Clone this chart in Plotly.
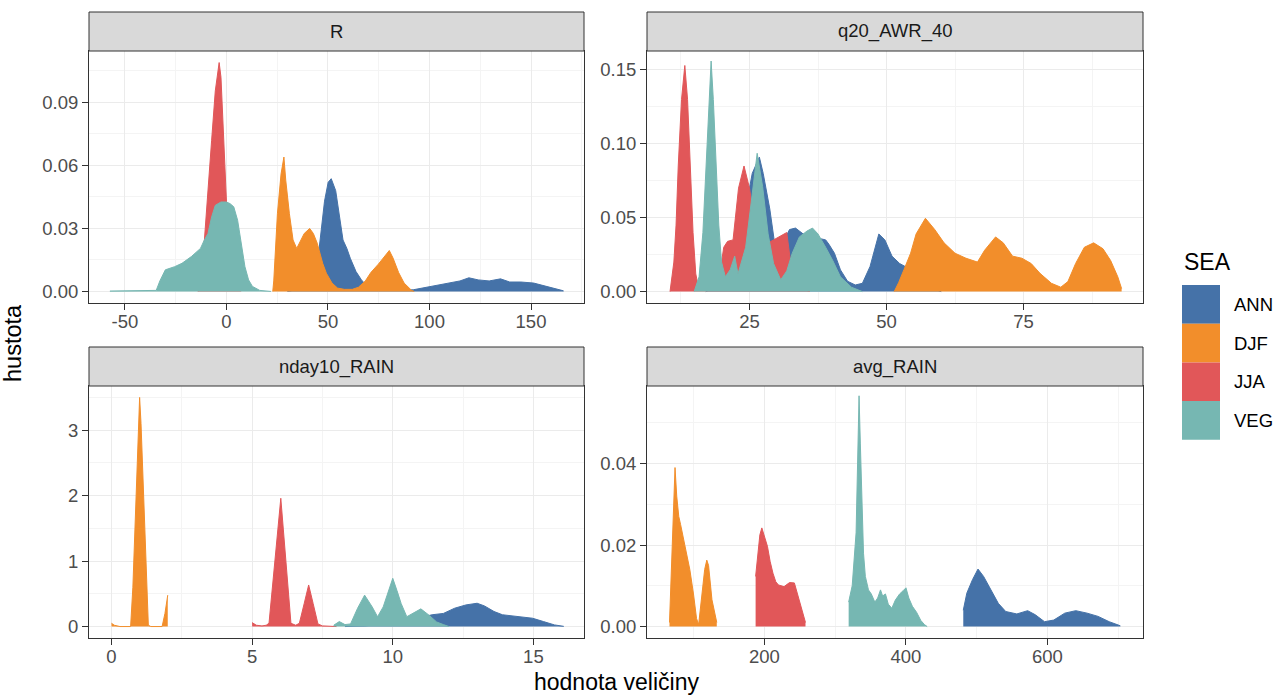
import plotly.graph_objects as go

W, H = 1285, 696

SEASONS = ["ANN", "DJF", "JJA", "VEG"]
COLORS = {"ANN": "#4572A8", "DJF": "#F28E2B", "JJA": "#E15759", "VEG": "#76B7B2"}
PANELS = ["R", "q20_AWR_40", "nday10_RAIN", "avg_RAIN"]

# ---------------- R ----------------
R_ANN_x = [30, 35, 40, 43, 45.6, 46.5, 48.3, 50.1, 51.6, 53.8, 55.6, 57.4, 59.3, 61, 63.8, 66.5, 69.3, 72, 76, 80, 85, 92,
           98.4, 104, 109, 115, 119.4, 124, 129.4, 135, 139.5, 145, 151.3, 156.8, 162.3, 166]
R_ANN_y = [0, 0.001, 0.005, 0.012, 0.02, 0.0276, 0.043, 0.052, 0.0537, 0.048, 0.037, 0.0245, 0.0205, 0.0158, 0.0095,
           0.0055, 0.0024, 0.0012, 0.0008, 0.0006, 0.0005, 0.0008, 0.002, 0.003, 0.004, 0.005, 0.0065, 0.0055, 0.005,
           0.006, 0.0045, 0.0045, 0.004, 0.0025, 0.001, 0.0003]
R_DJF_x = [22.8, 23.3, 25.1, 26.9, 28.3, 29.2, 31, 32.8, 34.6, 36.5, 38.3, 41, 42.8, 44.7, 47.4, 49.2, 52, 54.7, 58, 62,
           65, 68.4, 71.1, 74.8, 78.4, 80.2, 82, 84.8, 87.5, 91.2, 92.5]
R_DJF_y = [0, 0.005, 0.037, 0.056, 0.064, 0.053, 0.037, 0.0245, 0.0205, 0.0245, 0.0276, 0.030, 0.0276, 0.023, 0.0134,
           0.0087, 0.004, 0.0016, 0.001, 0.001, 0.002, 0.005, 0.009, 0.013, 0.017, 0.0195, 0.016, 0.009, 0.004, 0.0005, 0]
R_JJA_x = [-14, -12.5, -10.9, -9.1, -7.3, -5.5, -3.6, -2.7, -1.8, -0.9, 0, 1.5, 3, 5, 7]
R_JJA_y = [0, 0.01, 0.024, 0.05, 0.072, 0.0955, 0.109, 0.102, 0.083, 0.059, 0.043, 0.025, 0.01, 0.002, 0]
R_VEG_x = [-57.4, -45, -34.6, -32.8, -30.1, -25.5, -21.9, -17.3, -14.6, -12.8, -10.9, -9.1, -7.3, -5.5, -2.7, 0, 1.8,
           3.6, 5.5, 7.3, 9.1, 10.9, 12.8, 16.4, 21.9]
R_VEG_y = [0.0002, 0.0002, 0.0005, 0.005, 0.0103, 0.0118, 0.0134, 0.0166, 0.019, 0.0205, 0.0245, 0.0276, 0.0355, 0.041,
           0.0426, 0.0426, 0.0418, 0.0403, 0.0339, 0.0229, 0.0118, 0.0055, 0.0024, 0.0005, 0.0]

# ---------------- q20_AWR_40 ----------------
Q_ANN_x = [17, 20, 22, 24, 25.5, 26.8, 27.5, 28.7, 29.5, 30.5, 31.5, 32.3, 33.4, 34.8, 36.5, 38.9, 39.5, 40.5, 41.6,
           42.9, 44.3, 45.6, 47, 48.6, 49.7, 51, 52.4, 53.4, 55, 57, 60]
Q_ANN_y = [0, 0.005, 0.02, 0.05, 0.08, 0.091, 0.08, 0.056, 0.035, 0.03, 0.036, 0.042, 0.043, 0.039, 0.037, 0.035,
           0.032, 0.026, 0.0147, 0.007, 0.0045, 0.0056, 0.017, 0.039, 0.035, 0.024, 0.019, 0.017, 0.01, 0.004, 0]
Q_DJF_x = [51.4, 52.2, 53.2, 54.4, 55.4, 57.1, 58.8, 60.5, 62.5, 64.5, 66.6, 67.9, 69.9, 71.3, 73, 74.7, 76.4, 78,
           80.1, 81.8, 83.1, 84.5, 86.1, 87.8, 89.5, 90.9, 92.2, 92.9]
Q_DJF_y = [0, 0.006, 0.015, 0.026, 0.039, 0.0496, 0.042, 0.033, 0.026, 0.0226, 0.02, 0.028, 0.037, 0.033, 0.024,
           0.0226, 0.019, 0.0124, 0.0056, 0.003, 0.0068, 0.019, 0.030, 0.033, 0.029, 0.021, 0.01, 0.002]
Q_JJA_x = [10.5, 11.2, 11.6, 12.0, 12.6, 13.2, 13.7, 14.2, 14.7, 15.2, 15.7, 16.5, 18, 19.5, 20.3, 21, 22, 23, 24, 25,
           26, 27, 28, 29.5, 31, 31.8, 32.5, 33, 34, 36]
Q_JJA_y = [0, 0.02, 0.045, 0.085, 0.13, 0.153, 0.13, 0.085, 0.04, 0.012, 0.003, 0.001, 0.002, 0.01, 0.03, 0.034,
           0.035, 0.07, 0.085, 0.07, 0.045, 0.03, 0.032, 0.035, 0.038, 0.04, 0.02, 0.006, 0.003, 0]
Q_VEG_x = [14.9, 15.8, 16.5, 17.1, 17.6, 18.0, 18.4, 18.9, 19.4, 19.9, 20.6, 21.5, 22.3, 22.9, 23.5, 24.3, 25.3, 26.4,
           27.4, 28.4, 29.4, 30.7, 31.8, 32.8, 34.1, 35.5, 36.5, 37.5, 38.9, 40.2, 41.6, 43.6, 45.6]
Q_VEG_y = [0, 0.01, 0.04, 0.085, 0.13, 0.156, 0.13, 0.085, 0.045, 0.02, 0.01, 0.015, 0.024, 0.012, 0.02, 0.03, 0.06,
           0.0936, 0.071, 0.039, 0.019, 0.008, 0.014, 0.026, 0.037, 0.041, 0.043, 0.039, 0.03, 0.021, 0.01, 0.003, 0]

# ---------------- nday10_RAIN ----------------
N_ANN_x = [8.3, 9, 9.5, 10, 10.5, 11, 11.4, 11.8, 12.2, 12.6, 13.0, 13.26, 13.6, 13.9, 14.4, 14.97, 15.36, 15.75, 16.08]
N_ANN_y = [0.0, 0.01, 0.03, 0.06, 0.1, 0.14, 0.18, 0.2, 0.28, 0.33, 0.356, 0.315, 0.23, 0.18, 0.15, 0.127, 0.076,
           0.025, 0.003]
N_DJF_x = [0, 0.1, 0.3, 0.68, 0.76, 0.86, 0.95, 1.0, 1.05, 1.145, 1.24, 1.31, 1.4, 1.8, 1.9, 1.99, 2.0]
N_DJF_y = [0.05, 0.02, 0.0, 0.0, 0.6, 1.93, 3.1, 3.5, 3.1, 1.93, 0.6, 0.02, 0.0, 0.0, 0.2, 0.48, 0.48]
N_JJA_x = [5.0, 5.15, 5.35, 5.5, 5.6, 5.75, 5.9, 6.02, 6.12, 6.25, 6.38, 6.55, 6.68, 6.85, 7.01, 7.17, 7.34, 7.5, 7.8,
           8.0]
N_JJA_y = [0.06, 0.02, 0.01, 0.02, 0.05, 0.73, 1.41, 1.96, 1.43, 0.74, 0.05, 0.02, 0.05, 0.35, 0.635, 0.35, 0.04,
           0.01, 0.005, 0.0]
N_VEG_x = [7.9, 8.1, 8.3, 8.5, 8.75, 9.0, 9.27, 9.46, 9.66, 9.85, 10.0, 10.15, 10.3, 10.5, 10.7, 11.0, 11.3, 11.56,
           11.8, 12.0]
N_VEG_y = [0.02, 0.076, 0.03, 0.04, 0.28, 0.48, 0.3, 0.15, 0.3, 0.55, 0.737, 0.55, 0.35, 0.15, 0.2, 0.27, 0.17, 0.07,
           0.03, 0.0]

# ---------------- avg_RAIN ----------------
A_ANN_x = [481, 486, 494, 501.8, 509.7, 520, 530.5, 541, 556.7, 572, 582.8, 595.8, 608.9, 624.5, 640, 655.9, 671.5,
           687.2, 702.9]
A_ANN_y = [0.004, 0.0082, 0.0115, 0.0141, 0.0123, 0.009, 0.0057, 0.0037, 0.0031, 0.0039, 0.0029, 0.0012, 0.0016,
           0.0033, 0.0039, 0.0033, 0.0025, 0.0012, 0.0002]
A_DJF_x = [65.8, 68, 70, 72, 73.6, 76, 78.9, 81.5, 85, 89, 94.5, 99.7, 104, 107, 110, 112.8, 115.5, 118.5, 121, 125.8,
           131, 132.6]
A_DJF_y = [0.001, 0.011, 0.021, 0.031, 0.039, 0.032, 0.027, 0.025, 0.022, 0.019, 0.014, 0.008, 0.002, 0.0005, 0.005,
           0.0098, 0.014, 0.0163, 0.015, 0.0066, 0.0016, 0.001]
A_JJA_x = [187.5, 191, 193.5, 196.3, 200, 204.2, 208, 212, 216, 219.8, 227.7, 235.5, 242.3, 248.6, 254.8, 258]
A_JJA_y = [0.0123, 0.018, 0.0225, 0.0242, 0.022, 0.0197, 0.016, 0.0131, 0.011, 0.0102, 0.0098, 0.0108, 0.0107,
           0.0066, 0.0025, 0.001]
A_VEG_x = [319, 324, 329.5, 332, 333.7, 335.5, 337.3, 340, 342.6, 347, 351, 356, 360, 364, 367, 371, 375, 380, 385,
           391, 396, 400, 404, 409, 415, 421, 426, 430]
A_VEG_y = [0.006, 0.01, 0.023, 0.045, 0.0566, 0.045, 0.031, 0.018, 0.0123, 0.009, 0.008, 0.006, 0.007, 0.009,
           0.0075, 0.008, 0.0055, 0.0045, 0.0065, 0.008, 0.0088, 0.0095, 0.007, 0.005, 0.0035, 0.0015, 0.0005, 0.0]

# ---------------- ticks ----------------
R_xticks = [-50, 0, 50, 100, 150]
R_yticks = [0.0, 0.03, 0.06, 0.09]
R_yticktext = ["0.00", "0.03", "0.06", "0.09"]
Q_xticks = [25, 50, 75]
Q_yticks = [0.0, 0.05, 0.10, 0.15]
Q_yticktext = ["0.00", "0.05", "0.10", "0.15"]
N_xticks = [0, 5, 10, 15]
N_yticks = [0, 1, 2, 3]
N_yticktext = ["0", "1", "2", "3"]
A_xticks = [200, 400, 600]
A_yticks = [0.0, 0.02, 0.04]
A_yticktext = ["0.00", "0.02", "0.04"]

X_TITLE = "hodnota veličiny"
Y_TITLE = "hustota"
LEGEND_TITLE = "SEA"

# ---------------- layout geometry (pixels) ----------------
panel_px = {
    "R": dict(x=(89, 584), y=(51, 303), strip=(12, 51), xr=[-67.7, 176.1], yr=[-0.0055, 0.1145]),
    "q20_AWR_40": dict(x=(647, 1143), y=(51, 303), strip=(12, 51), xr=[6.3, 96.8], yr=[-0.0077, 0.1628]),
    "nday10_RAIN": dict(x=(89, 584), y=(386, 638), strip=(347, 386), xr=[-0.8, 16.8], yr=[-0.175, 3.675]),
    "avg_RAIN": dict(x=(647, 1143), y=(386, 638), strip=(347, 386), xr=[34, 735], yr=[-0.0028, 0.0590]),
}

series = {
    "R": [(R_ANN_x, R_ANN_y), (R_DJF_x, R_DJF_y), (R_JJA_x, R_JJA_y), (R_VEG_x, R_VEG_y)],
    "q20_AWR_40": [(Q_ANN_x, Q_ANN_y), (Q_DJF_x, Q_DJF_y), (Q_JJA_x, Q_JJA_y), (Q_VEG_x, Q_VEG_y)],
    "nday10_RAIN": [(N_ANN_x, N_ANN_y), (N_DJF_x, N_DJF_y), (N_JJA_x, N_JJA_y), (N_VEG_x, N_VEG_y)],
    "avg_RAIN": [(A_ANN_x, A_ANN_y), (A_DJF_x, A_DJF_y), (A_JJA_x, A_JJA_y), (A_VEG_x, A_VEG_y)],
}
ticks = {
    "R": (R_xticks, [str(v) for v in R_xticks], R_yticks, R_yticktext),
    "q20_AWR_40": (Q_xticks, [str(v) for v in Q_xticks], Q_yticks, Q_yticktext),
    "nday10_RAIN": (N_xticks, [str(v) for v in N_xticks], N_yticks, N_yticktext),
    "avg_RAIN": (A_xticks, [str(v) for v in A_xticks], A_yticks, A_yticktext),
}


def fx(p):
    return p / W


def fy(p):
    return 1 - p / H


def minors(major, rng):
    step = major[1] - major[0]
    cand = [major[0] - step / 2] + [m + step / 2 for m in major]
    return [c for c in cand if rng[0] <= c <= rng[1]]


FONT = "Liberation Sans, Arial, Helvetica, sans-serif"
fig = go.Figure()
layout = dict(width=W, height=H, margin=dict(l=0, r=0, t=0, b=0), paper_bgcolor="white",
              plot_bgcolor="white", showlegend=False, font=dict(family=FONT))
shapes, annotations = [], []

for i, name in enumerate(PANELS):
    g = panel_px[name]
    k = "" if i == 0 else str(i + 1)
    for s, (xs, ys) in zip(SEASONS, series[name]):
        c = COLORS[s]
        fig.add_trace(go.Scatter(x=xs, y=ys, mode="lines", fill="tozeroy", fillcolor=c,
                                 line=dict(color=c, width=1), xaxis="x" + k, yaxis="y" + k,
                                 hoverinfo="skip", name=s))
    xt, xtt, yt, ytt = ticks[name]
    common = dict(showline=True, mirror=True, linecolor="#333333", linewidth=1, ticks="outside", ticklen=6,
                  tickwidth=1, tickcolor="#333333", showgrid=True, gridcolor="#EBEBEB", gridwidth=1.3,
                  zeroline=False, tickfont=dict(size=18.5, color="#4D4D4D", family=FONT), fixedrange=True)
    layout["xaxis" + k] = dict(domain=[fx(g["x"][0]), fx(g["x"][1])], range=g["xr"], anchor="y" + k,
                               tickvals=xt, ticktext=xtt, ticklabelstandoff=-4,
                               minor=dict(tickvals=minors(xt, g["xr"]), showgrid=True, gridcolor="#F4F4F4",
                                          gridwidth=0.8, ticks=""), **common)
    layout["yaxis" + k] = dict(domain=[fy(g["y"][1]), fy(g["y"][0])], range=g["yr"], anchor="x" + k,
                               tickvals=yt, ticktext=ytt,
                               minor=dict(tickvals=minors(yt, g["yr"]), showgrid=True, gridcolor="#F4F4F4",
                                          gridwidth=0.8, ticks=""), **common)
    shapes.append(dict(type="rect", xref="paper", yref="paper", x0=fx(g["x"][0]), x1=fx(g["x"][1]),
                       y0=fy(g["strip"][1]), y1=fy(g["strip"][0]), fillcolor="#D9D9D9",
                       line=dict(color="#333333", width=1), layer="above"))
    annotations.append(dict(xref="paper", yref="paper", x=fx((g["x"][0] + g["x"][1]) / 2),
                            y=fy((g["strip"][0] + g["strip"][1]) / 2), text=name, showarrow=False,
                            xanchor="center", yanchor="middle", font=dict(size=18.5, color="#1A1A1A")))

# axis titles
annotations.append(dict(xref="paper", yref="paper", x=fx(616), y=fy(682), text=X_TITLE, showarrow=False,
                        xanchor="center", yanchor="middle", font=dict(size=23, color="black")))
annotations.append(dict(xref="paper", yref="paper", x=fx(13), y=fy(343), text=Y_TITLE, showarrow=False,
                        textangle=-90, xanchor="center", yanchor="middle", font=dict(size=23.5, color="black")))

# legend (drawn manually to reproduce ggplot's large square keys)
annotations.append(dict(xref="paper", yref="paper", x=fx(1182), y=fy(262), text=LEGEND_TITLE, showarrow=False,
                        xanchor="left", yanchor="middle", font=dict(size=23, color="black")))
key_top, key_h, key_w = 285, 38.7, 38
for j, s in enumerate(SEASONS):
    t = key_top + j * key_h
    shapes.append(dict(type="rect", xref="paper", yref="paper", x0=fx(1182), x1=fx(1182 + key_w),
                       y0=fy(t + key_h), y1=fy(t), fillcolor=COLORS[s], line=dict(width=0)))
    annotations.append(dict(xref="paper", yref="paper", x=fx(1232), y=fy(t + key_h / 2), text=s,
                            showarrow=False, xanchor="left", yanchor="middle",
                            font=dict(size=18.5, color="black")))

layout["shapes"] = shapes
layout["annotations"] = annotations
fig.update_layout(**layout)

fig.write_html("out.html", config={"displayModeBar": False},
               post_script="document.body.style.margin='0';")
